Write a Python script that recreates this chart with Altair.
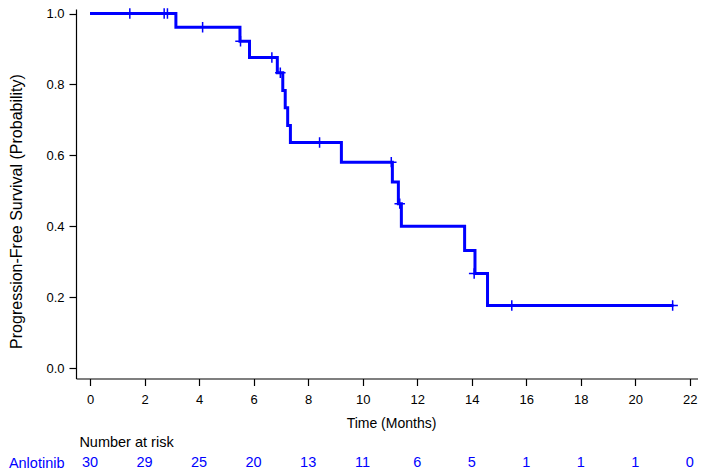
import altair as alt
import pandas as pd

# Kaplan-Meier step curve (time in months, survival probability)
step_times = [0, 3.15, 5.50, 5.85, 6.87, 7.07, 7.16, 7.25, 7.35, 9.22, 11.09, 11.31, 11.42, 13.74, 14.12, 14.58, 21.40]
step_surv = [1.0, 0.961, 0.922, 0.876, 0.833, 0.783, 0.734, 0.684, 0.636, 0.581, 0.525, 0.464, 0.400, 0.332, 0.267, 0.177, 0.177]

# censor marks
cens_times = [1.46, 2.72, 2.84, 4.13, 5.52, 6.67, 6.98, 8.42, 11.05, 11.36, 14.09, 15.47, 21.37]
cens_surv = [1.0, 1.0, 1.0, 0.961, 0.922, 0.876, 0.833, 0.636, 0.581, 0.464, 0.267, 0.177, 0.177]

# number at risk table
risk_times = [0, 2, 4, 6, 8, 10, 12, 14, 16, 18, 20, 22]
risk_counts = [30, 29, 25, 20, 13, 11, 6, 5, 1, 1, 1, 0]
group_name = "Anlotinib"

x_ticks = [0, 2, 4, 6, 8, 10, 12, 14, 16, 18, 20, 22]
y_ticks = [0.0, 0.2, 0.4, 0.6, 0.8, 1.0]

BLUE = "#0000FF"
FONT = "Liberation Sans"

steps = pd.DataFrame({"t": step_times, "s": step_surv})
cens = pd.DataFrame({"t": cens_times, "s": cens_surv})
risk = pd.DataFrame({"t": risk_times, "n": risk_counts, "g": [group_name] * len(risk_times)})

xs = alt.Scale(domain=[-0.514, 22.30], nice=False, zero=False)
ys = alt.Scale(domain=[-0.029, 1.0127], nice=False, zero=False)

x_axis = alt.Axis(
    values=x_ticks, title="Time (Months)", grid=False, format="d",
    tickSize=7, labelPadding=8, labelFontSize=13, titleFontSize=14,
    titleFontWeight="normal", titlePadding=10, domainColor="black",
    tickColor="black", labelColor="black", titleColor="black",
    labelFont=FONT, titleFont=FONT, labelFlush=False, domainWidth=1.2, tickWidth=1.2,
    titleX=315,
)
y_axis = alt.Axis(
    values=y_ticks, title="Progression-Free Survival (Probability)", grid=False,
    format=".1f", tickSize=7, labelPadding=5, labelFontSize=13, titleFontSize=16,
    titleFontWeight="normal", titlePadding=21, domainColor="black",
    tickColor="black", labelColor="black", titleColor="black",
    labelFont=FONT, titleFont=FONT, labelFlush=False, domainWidth=1.2, tickWidth=1.2,
    titleY=202,
)

line = alt.Chart(steps).mark_line(
    interpolate="step-after", color=BLUE, strokeWidth=3
).encode(
    x=alt.X("t:Q", scale=xs, axis=x_axis),
    y=alt.Y("s:Q", scale=ys, axis=y_axis),
)

censor = alt.Chart(cens).mark_point(
    shape="M0,-1V1M-1,0H1", size=110, filled=False, color=BLUE,
    strokeWidth=1.5, opacity=1,
).encode(
    x=alt.X("t:Q", scale=xs),
    y=alt.Y("s:Q", scale=ys),
)

main = alt.layer(line, censor).properties(width=622, height=369.5)

risk_chart = alt.Chart(risk).mark_text(
    color=BLUE, fontSize=14.5, font=FONT
).encode(
    x=alt.X("t:Q", scale=xs, axis=None),
    y=alt.Y("g:N", axis=alt.Axis(
        title=None, domain=False, ticks=False, labelColor=BLUE,
        labelFontSize=14.5, labelPadding=12, labelFont=FONT,
    )),
    text=alt.Text("n:Q"),
).properties(
    width=622, height=20,
    title=alt.TitleParams("Number at risk", anchor="start", fontSize=14.5,
                          fontWeight="normal", font=FONT, color="black",
                          offset=3, dx=71),
)

chart = alt.vconcat(main, risk_chart, spacing=3).properties(
    padding={"left": 0, "top": -3, "right": 0, "bottom": 0}
).configure_view(stroke=None)

chart.save("out.html", embed_options={"renderer": "svg", "actions": False})
